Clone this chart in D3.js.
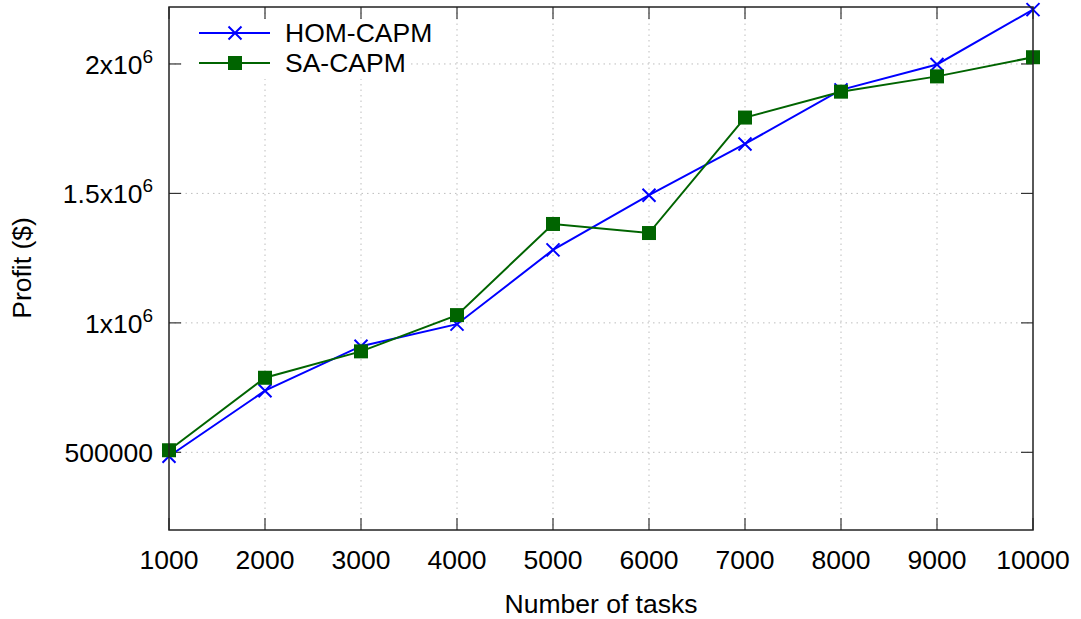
<!DOCTYPE html>
<html><head><meta charset="utf-8">
<script src="https://cdn.jsdelivr.net/npm/d3@7"></script>
<style>
body{margin:0;background:#fff;}
text{font-family:"Liberation Sans",Arial,sans-serif;fill:#000;}
</style></head>
<body>
<svg id="c" width="1081" height="619"></svg>
<script>
const tasks = [1000,2000,3000,4000,5000,6000,7000,8000,9000,10000];
const homCapm = [485000,738000,910000,995000,1282000,1493000,1691000,1900000,1998000,2210000];
const saCapm  = [508000,788000,890000,1030000,1382000,1347000,1793000,1893000,1952000,2026000];
const xTicks = [1000,2000,3000,4000,5000,6000,7000,8000,9000,10000];
const yTicks = [500000,1000000,1500000,2000000];
const yTickLabels = [["500000",null],["1x10","6"],["1.5x10","6"],["2x10","6"]];
const seriesNames = ["HOM-CAPM","SA-CAPM"];

const L=169,R=1033,T=7,B=530;
const FS=26.5;
const svg=d3.select("#c");
const x=d3.scaleLinear().domain([1000,10000]).range([L,R]);
const y=d3.scaleLinear().domain([200000,2220000]).range([B,T]);

// grid
const g=svg.append("g");
g.selectAll(".gx").data(xTicks.filter(d=>d>1000&&d<10000)).enter().append("line")
 .attr("x1",d=>x(d)).attr("x2",d=>x(d)).attr("y1",T).attr("y2",B)
 .attr("stroke","#bdbdbd").attr("stroke-width",1).attr("stroke-dasharray","1.5,4");
g.selectAll(".gy").data(yTicks).enter().append("line")
 .attr("x1",L).attr("x2",R).attr("y1",d=>y(d)).attr("y2",d=>y(d))
 .attr("stroke","#bdbdbd").attr("stroke-width",1).attr("stroke-dasharray","1.5,4");

// ticks (inward, mirrored)
const tk=12;
xTicks.forEach(d=>{
  svg.append("line").attr("x1",x(d)).attr("x2",x(d)).attr("y1",B).attr("y2",B-tk).attr("stroke","#333").attr("stroke-width",1.2);
  svg.append("line").attr("x1",x(d)).attr("x2",x(d)).attr("y1",T).attr("y2",T+tk).attr("stroke","#333").attr("stroke-width",1.2);
});
yTicks.forEach(d=>{
  svg.append("line").attr("x1",L).attr("x2",L+tk).attr("y1",y(d)).attr("y2",y(d)).attr("stroke","#333").attr("stroke-width",1.2);
  svg.append("line").attr("x1",R).attr("x2",R-tk).attr("y1",y(d)).attr("y2",y(d)).attr("stroke","#333").attr("stroke-width",1.2);
});

// tick labels
svg.selectAll(".xl").data(xTicks).enter().append("text")
 .attr("x",d=>x(d)).attr("y",569).attr("text-anchor","middle").attr("font-size",FS).text(d=>d);
yTicks.forEach((d,i)=>{
  const t=svg.append("text").attr("x",153).attr("y",y(d)+10).attr("text-anchor","end").attr("font-size",FS);
  t.append("tspan").text(yTickLabels[i][0]);
  if(yTickLabels[i][1]) t.append("tspan").attr("dy",-11).attr("font-size",19).text(yTickLabels[i][1]);
});

// axis titles
svg.append("text").attr("x",601).attr("y",613).attr("text-anchor","middle").attr("font-size",FS).text("Number of tasks");
svg.append("text").attr("transform","translate(31,268) rotate(-90)").attr("text-anchor","middle").attr("font-size",FS).text("Profit ($)");

// legend background
svg.append("rect").attr("x",185).attr("y",19).attr("width",225).attr("height",60).attr("fill","#fff");

const line=d3.line().x((d,i)=>x(tasks[i])).y(d=>y(d));
const colors=["#0000ff","#006400"];

// series
svg.append("path").datum(homCapm).attr("d",line).attr("fill","none").attr("stroke",colors[0]).attr("stroke-width",2);
svg.append("path").datum(saCapm).attr("d",line).attr("fill","none").attr("stroke",colors[1]).attr("stroke-width",2);

function cross(sel,cx,cy,col){
  const s=6.5;
  sel.append("path").attr("d",`M${cx-s},${cy-s}L${cx+s},${cy+s}M${cx-s},${cy+s}L${cx+s},${cy-s}`)
   .attr("stroke",col).attr("stroke-width",2).attr("fill","none");
}
function square(sel,cx,cy,col){
  const s=7;
  sel.append("rect").attr("x",cx-s).attr("y",cy-s).attr("width",2*s).attr("height",2*s).attr("fill",col);
}
homCapm.forEach((d,i)=>cross(svg,x(tasks[i]),y(d),colors[0]));
saCapm.forEach((d,i)=>square(svg,x(tasks[i]),y(d),colors[1]));

// frame
svg.append("rect").attr("x",L).attr("y",T).attr("width",R-L).attr("height",B-T).attr("fill","none").attr("stroke","#222").attr("stroke-width",1.5);

// legend
const ly=[33,63];
seriesNames.forEach((n,i)=>{
  svg.append("line").attr("x1",199).attr("x2",270).attr("y1",ly[i]).attr("y2",ly[i]).attr("stroke",colors[i]).attr("stroke-width",2);
  if(i===0) cross(svg,235,ly[i],colors[i]); else square(svg,235,ly[i],colors[i]);
  svg.append("text").attr("x",285).attr("y",ly[i]+9).attr("font-size",FS).text(n);
});
</script>
</body></html>
